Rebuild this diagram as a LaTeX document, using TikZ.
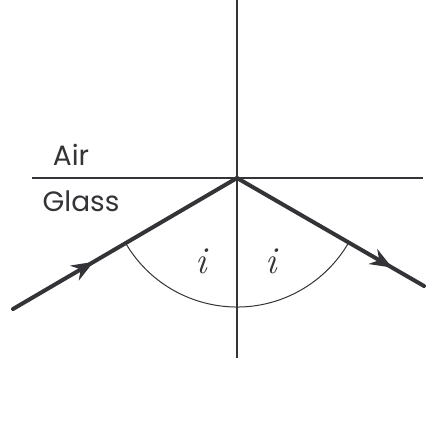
\documentclass[tikz,border=0pt]{standalone}
\usepackage{fontspec}
\setmainfont{Poppins}
\newfontfamily\lmfont{Latin Modern Roman}
\usetikzlibrary{decorations.markings,arrows.meta}

\definecolor{inkcolor}{rgb}{0.20, 0.20, 0.22}

\tikzset{
  axisline/.style={draw=inkcolor, line width=2pt},
  ray/.style={draw=inkcolor, line width=4pt, line cap=round, line join=miter},
  midarrow/.style={postaction={decorate, decoration={markings,
      mark=at position #1 with {\arrow[inkcolor]{Stealth[length=22pt,width=17pt,inset=7pt]}}}}},
  anglearc/.style={draw=inkcolor, line width=1pt},
  medium/.style={font=\fontsize{28}{32}\selectfont, text=inkcolor},
  anglelabel/.style={font=\lmfont\itshape\fontsize{38}{40}\selectfont, text=inkcolor}
}

\begin{document}
\begin{tikzpicture}[x=1pt, y=-1pt]
\useasboundingbox (0,0) rectangle (442,421);
% fixed points of the figure
\coordinate (O) at (237,178);
\coordinate (normtop) at (237,0);
\coordinate (normbot) at (237,358);
\coordinate (surfleft) at (32,178);
\coordinate (surfright) at (423,178);
\coordinate (incstart) at (13,309);
\coordinate (reflend) at (424,286);
% surface and normal
\draw[axisline] (surfleft) -- (surfright);
\draw[axisline] (normtop) -- (normbot);
% angle of incidence and reflection
\draw[anglearc] (O) ++(150:129) arc (150:30:129);
% incident and reflected rays
\draw[ray, midarrow=0.36] (incstart) -- (O);
\draw[ray, midarrow=0.83] (O) -- (reflend);
% labels
\node[medium] (air) at (71,155) {Air};
\node[medium] (glass) at (81,201) {Glass};
\node[anglelabel] (ileft) at (201,261) {i};
\node[anglelabel] (iright) at (271,261) {i};
\end{tikzpicture}
\end{document}
